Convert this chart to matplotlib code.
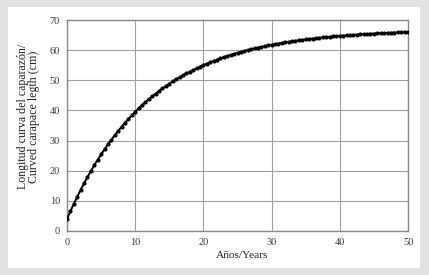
import matplotlib
matplotlib.use("Agg")
import matplotlib.pyplot as plt
from matplotlib.patches import Rectangle

ages = [i * 0.5 for i in range(101)]
length_cm = [
    4.00, 6.56, 9.02, 11.37, 13.64, 15.81, 17.89, 19.88, 21.80, 23.64,
    25.40, 27.09, 28.71, 30.27, 31.76, 33.19, 34.57, 35.89, 37.15, 38.36,
    39.53, 40.65, 41.72, 42.75, 43.73, 44.68, 45.58, 46.46, 47.29, 48.09,
    48.86, 49.60, 50.30, 50.98, 51.63, 52.26, 52.86, 53.43, 53.98, 54.51,
    55.02, 55.51, 55.98, 56.42, 56.85, 57.27, 57.66, 58.04, 58.40, 58.75,
    59.09, 59.41, 59.72, 60.02, 60.30, 60.57, 60.83, 61.08, 61.32, 61.55,
    61.78, 61.99, 62.19, 62.39, 62.58, 62.76, 62.93, 63.09, 63.25, 63.40,
    63.55, 63.69, 63.83, 63.95, 64.08, 64.20, 64.31, 64.42, 64.53, 64.63,
    64.72, 64.82, 64.90, 64.99, 65.07, 65.15, 65.22, 65.30, 65.37, 65.43,
    65.50, 65.56, 65.62, 65.67, 65.73, 65.78, 65.83, 65.87, 65.92, 65.96,
    66.01,
]
xticks = [0, 10, 20, 30, 40, 50]
yticks = [0, 10, 20, 30, 40, 50, 60, 70]

plt.rcParams['font.family'] = ['Liberation Serif', 'DejaVu Serif']

W, H = 429, 275
fig = plt.figure(figsize=(W / 100, H / 100), dpi=100)
fig.patch.set_facecolor('#e2e2e2')

bg = fig.add_axes([0, 0, 1, 1], zorder=-10)
bg.set_xlim(0, W)
bg.set_ylim(H, 0)
bg.axis('off')
bg.add_patch(Rectangle((8, 7), 420 - 8, 268 - 7, facecolor='white', edgecolor='none'))

ax = fig.add_axes([67 / W, 1 - 231 / H, (408 - 67) / W, (231 - 20) / H], zorder=1)
ax.set_facecolor('white')
ax.plot(ages, length_cm, color='black', lw=1.4, marker='o', markersize=3.0,
        markeredgewidth=0, zorder=3)
ax.set_xlim(0, 50)
ax.set_ylim(0, 70)
ax.set_xticks(xticks)
ax.set_yticks(yticks)
ax.grid(True, color='#a0a0a0', lw=0.8)
ax.set_axisbelow(True)
for s in ax.spines.values():
    s.set_color('#8a8a8a')
    s.set_linewidth(1.0)
ax.tick_params(length=0, pad=5, labelsize=7.5, colors='#3a3a3a')
ax.set_xlabel('Años/Years', fontsize=8.2, color='#222222')
ax.xaxis.set_label_coords((242 - 67) / 341, -(260 - 231) / 211)
ax.xaxis.label.set_va('bottom')
ax.set_ylabel('Longitud curva del caparazón/\nCurved carapace legth (cm)',
              fontsize=8.6, color='#222222', linespacing=0.85)
ax.yaxis.set_label_coords(-(67 - 40) / 341, (231 - 116.5) / 211)

fig.savefig('out.png', dpi=100, facecolor=fig.get_facecolor())
